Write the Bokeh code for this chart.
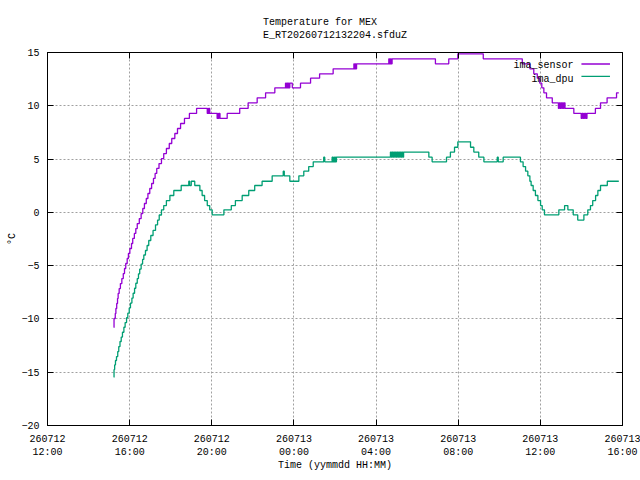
from bokeh.plotting import figure
from bokeh.models import Range1d, FixedTicker, LinearAxis, Title, Label, BoxAnnotation
from bokeh.embed import file_html
from bokeh.resources import INLINE

# ---------------- data (hours since 260712 12:00, degrees C) ----------------
sensor_t = [3.23, 3.24, 3.30, 3.33, 3.37, 3.41, 3.44, 3.49, 3.55, 3.62, 3.69, 3.75, 3.81, 3.88,
            3.94, 4.01, 4.09, 4.15, 4.23, 4.30, 4.37, 4.47, 4.56, 4.64, 4.72, 4.81, 4.89, 4.98,
            5.07, 5.16, 5.24, 5.32, 5.43, 5.55, 5.66, 5.79, 5.93, 6.05, 6.20, 6.33, 6.48, 6.67,
            6.91, 7.26,
            7.78, 7.81, 7.84, 7.87, 7.90,
            8.26, 8.29, 8.32, 8.36, 8.40,
            8.75, 9.36, 9.77, 10.21, 10.62, 11.07,
            11.59, 11.63, 11.66, 11.70, 11.73, 11.77, 11.80, 11.92,
            12.32, 12.81, 13.25, 13.91,
            14.92, 14.95, 14.98, 15.01, 15.05,
            16.62, 16.66, 16.70, 16.74, 16.78,
            18.89, 19.54, 19.98, 21.22, 23.12, 23.49, 23.68, 23.85, 23.97, 24.07, 24.17,
            24.30, 24.58,
            24.88, 24.92, 24.96, 25.00, 25.04, 25.08, 25.12, 25.16, 25.20,
            25.63,
            25.99, 26.03, 26.07, 26.11, 26.15, 26.19, 26.23, 26.27,
            26.31, 26.68, 26.93, 27.25, 27.71, 27.82]
sensor_v = [-10.80, -9.96, -9.49, -9.02, -8.55, -8.08, -7.61, -7.15, -6.68, -6.21, -5.74, -5.27,
            -4.80, -4.33, -3.86, -3.39, -2.92, -2.45, -1.98, -1.52, -1.05, -0.58, -0.11, 0.36,
            0.83, 1.30, 1.77, 2.24, 2.71, 3.18, 3.65, 4.12, 4.58, 5.05, 5.52, 5.99, 6.46, 6.93,
            7.40, 7.87, 8.34, 8.81, 9.28, 9.75,
            9.28, 9.75, 9.28, 9.75, 9.28,
            8.81, 9.28, 8.81, 9.28, 8.81,
            9.28, 9.75, 10.28, 10.75, 11.22, 11.69,
            12.12, 11.69, 12.12, 11.69, 12.12, 11.69, 12.12, 11.69,
            12.12, 12.59, 13.00, 13.47,
            13.94, 13.47, 13.94, 13.47, 13.94,
            14.41, 13.94, 14.41, 13.94, 14.41,
            13.94, 14.41, 14.88, 14.41, 13.94, 13.47, 13.00, 12.59, 12.12, 11.69, 11.22,
            10.75, 10.28,
            9.75, 10.28, 9.75, 10.28, 9.75, 10.28, 9.75, 10.28, 9.75,
            9.28,
            8.81, 9.28, 8.81, 9.28, 8.81, 9.28, 8.81, 9.28,
            9.28, 9.75, 10.28, 10.75, 11.22, 11.22]

dpu_t = [3.23, 3.24, 3.27, 3.31, 3.36, 3.42, 3.47, 3.53, 3.59, 3.65, 3.72, 3.78, 3.85, 3.91,
         3.98, 4.04, 4.11, 4.17, 4.24, 4.30, 4.37, 4.43, 4.49, 4.56, 4.63, 4.69, 4.77, 4.85,
         4.93, 5.03, 5.14, 5.26, 5.36, 5.44, 5.55, 5.66, 5.79, 5.96, 6.15, 6.51, 6.88, 6.92,
         7.00, 7.17, 7.42, 7.53, 7.65, 7.78, 7.90, 8.02, 8.59, 8.95, 9.15, 9.48, 9.80, 10.09,
         10.45, 10.94, 11.48, 11.53, 11.80, 12.24, 12.48, 12.72, 12.94, 13.45, 13.50,
         13.86, 13.90, 13.94, 13.98, 14.02, 14.05, 14.07,
         16.70, 16.74, 16.78, 16.82, 16.86, 16.90, 16.94, 16.98, 17.02, 17.06, 17.10, 17.14,
         17.18, 17.22, 17.26, 17.30, 17.34, 17.38,
         18.57, 18.73, 19.43, 19.62, 19.82, 19.98, 20.60, 20.76, 21.00, 21.25, 21.90, 21.95,
         22.19, 23.03, 23.16, 23.28, 23.39, 23.49, 23.55, 23.65, 23.76, 23.88, 24.01, 24.09,
         24.20, 24.90, 25.18, 25.34, 25.60, 25.82, 26.12, 26.31, 26.44, 26.55, 26.69, 26.80,
         26.93, 27.26, 27.82]
dpu_v = [-15.47, -14.75, -14.32, -13.90, -13.53, -13.06, -12.59, -12.12, -11.70, -11.25, -10.78,
         -10.34, -9.89, -9.46, -8.97, -8.51, -8.04, -7.59, -7.12, -6.65, -6.21, -5.77, -5.32,
         -4.85, -4.42, -4.00, -3.58, -3.11, -2.64, -2.17, -1.70, -1.17, -0.72, -0.25, 0.24,
         0.64, 1.11, 1.58, 2.05, 2.52, 2.92, 2.52,
         2.92, 2.52, 2.05, 1.58, 1.11, 0.64, 0.24, -0.23, 0.24, 0.64, 1.11, 1.58, 2.05, 2.52,
         2.92, 3.43, 3.86, 3.43, 2.92, 3.43, 3.86, 4.30, 4.74, 5.18, 4.74,
         5.18, 4.74, 5.18, 4.74, 5.18, 4.74, 5.18,
         5.66, 5.18, 5.66, 5.18, 5.66, 5.18, 5.66, 5.18, 5.66, 5.18, 5.66, 5.18,
         5.66, 5.18, 5.66, 5.18, 5.66, 5.66,
         5.18, 4.74, 5.18, 5.66, 6.11, 6.62, 6.11, 5.66, 5.18, 4.74, 5.18, 4.74,
         5.18, 4.74, 4.30, 3.86, 3.43, 2.92, 2.52, 2.05, 1.58, 1.11, 0.64, 0.24,
         -0.23, 0.24, 0.64, 0.24, -0.23, -0.72, -0.23, 0.24, 0.64, 1.11, 1.58, 2.05,
         2.52, 2.92, 2.92]

tick_hours = [0, 4, 8, 12, 16, 20, 24, 28]
tick_labels = ["260712\n12:00", "260712\n16:00", "260712\n20:00", "260713\n00:00",
               "260713\n04:00", "260713\n08:00", "260713\n12:00", "260713\n16:00"]
y_ticks = [-20, -15, -10, -5, 0, 5, 10, 15]

title_lines = ["Temperature for MEX", "E_RT20260712132204.sfduZ"]
series_names = ["ima_sensor", "ima_dpu"]
series_colors = ["#9400d3", "#009e73"]

FONT = "Liberation Mono"
FS = "10px"

p = figure(width=640, height=480, output_backend="svg", toolbar_location=None, title=None,
           x_range=Range1d(0, 28), y_range=Range1d(-20, 15),
           min_border_left=47, min_border_right=18, min_border_top=52, min_border_bottom=55)
p.background_fill_color = "white"
p.border_fill_color = "white"
p.outline_line_color = "black"
p.outline_line_width = 1

p.step(sensor_t, sensor_v, mode="after", line_color=series_colors[0], line_width=1.3)
p.step(dpu_t, dpu_v, mode="after", line_color=series_colors[1], line_width=1.3)

xa = p.xaxis[0]
xa.ticker = FixedTicker(ticks=tick_hours)
xa.major_label_overrides = {h: s for h, s in zip(tick_hours, tick_labels)}
xa.axis_label = "Time (yymmdd HH:MM)"
xa.major_label_standoff = 8
xa.axis_label_standoff = -1

ya = p.yaxis[0]
ya.ticker = FixedTicker(ticks=y_ticks)
ya.axis_label = "°C"
ya.major_label_standoff = 8
ya.axis_label_standoff = 0

for ax in (xa, ya):
    ax.major_tick_in = 6
    ax.major_tick_out = 0
    ax.minor_tick_line_color = None
    ax.axis_line_color = "black"
    ax.major_tick_line_color = "black"
    ax.major_label_text_font = FONT
    ax.major_label_text_font_size = FS
    ax.major_label_text_color = "black"
    ax.axis_label_text_font = FONT
    ax.axis_label_text_font_size = FS
    ax.axis_label_text_font_style = "normal"
    ax.axis_label_text_color = "black"

# mirrored tick marks on the top and right edges (no labels drawn)
top = LinearAxis(ticker=FixedTicker(ticks=tick_hours), major_tick_in=6, major_tick_out=0,
                 minor_tick_line_color=None, major_label_text_font_size="0px",
                 major_label_text_color=None, major_label_standoff=0, axis_line_color="black")
right = LinearAxis(ticker=FixedTicker(ticks=y_ticks), major_tick_in=6, major_tick_out=0,
                   minor_tick_line_color=None, major_label_text_font_size="0px",
                   major_label_text_color=None, major_label_standoff=0, axis_line_color="black")
p.add_layout(top, "above")
p.add_layout(right, "right")

p.xgrid.ticker = FixedTicker(ticks=tick_hours)
p.ygrid.ticker = FixedTicker(ticks=y_ticks)
p.grid.grid_line_color = "#a0a0a0"
p.grid.grid_line_dash = "2 2"
p.grid.grid_line_width = 1

p.add_layout(Title(text="\n".join(title_lines), align="center", text_font=FONT,
                   text_font_size=FS, text_font_style="normal", text_color="black",
                   text_line_height=1.2, standoff=22), "above")

# gnuplot-style key: text on the left, line sample on the right
label_y = [13.76, 12.50]
sample_y = [13.92, 12.75]
for name, color, ly, sy in zip(series_names, series_colors, label_y, sample_y):
    p.add_layout(Label(x=25.62, y=ly, text=name, text_align="right", text_baseline="middle",
                       text_font=FONT, text_font_size=FS, text_color="black"))
    p.add_layout(BoxAnnotation(left=26.0, right=27.39, bottom=sy - 0.06, top=sy + 0.06,
                               fill_color=color, fill_alpha=1, line_color=None))

p.toolbar.logo = None
open("out.html", "w").write(file_html(p, INLINE))
